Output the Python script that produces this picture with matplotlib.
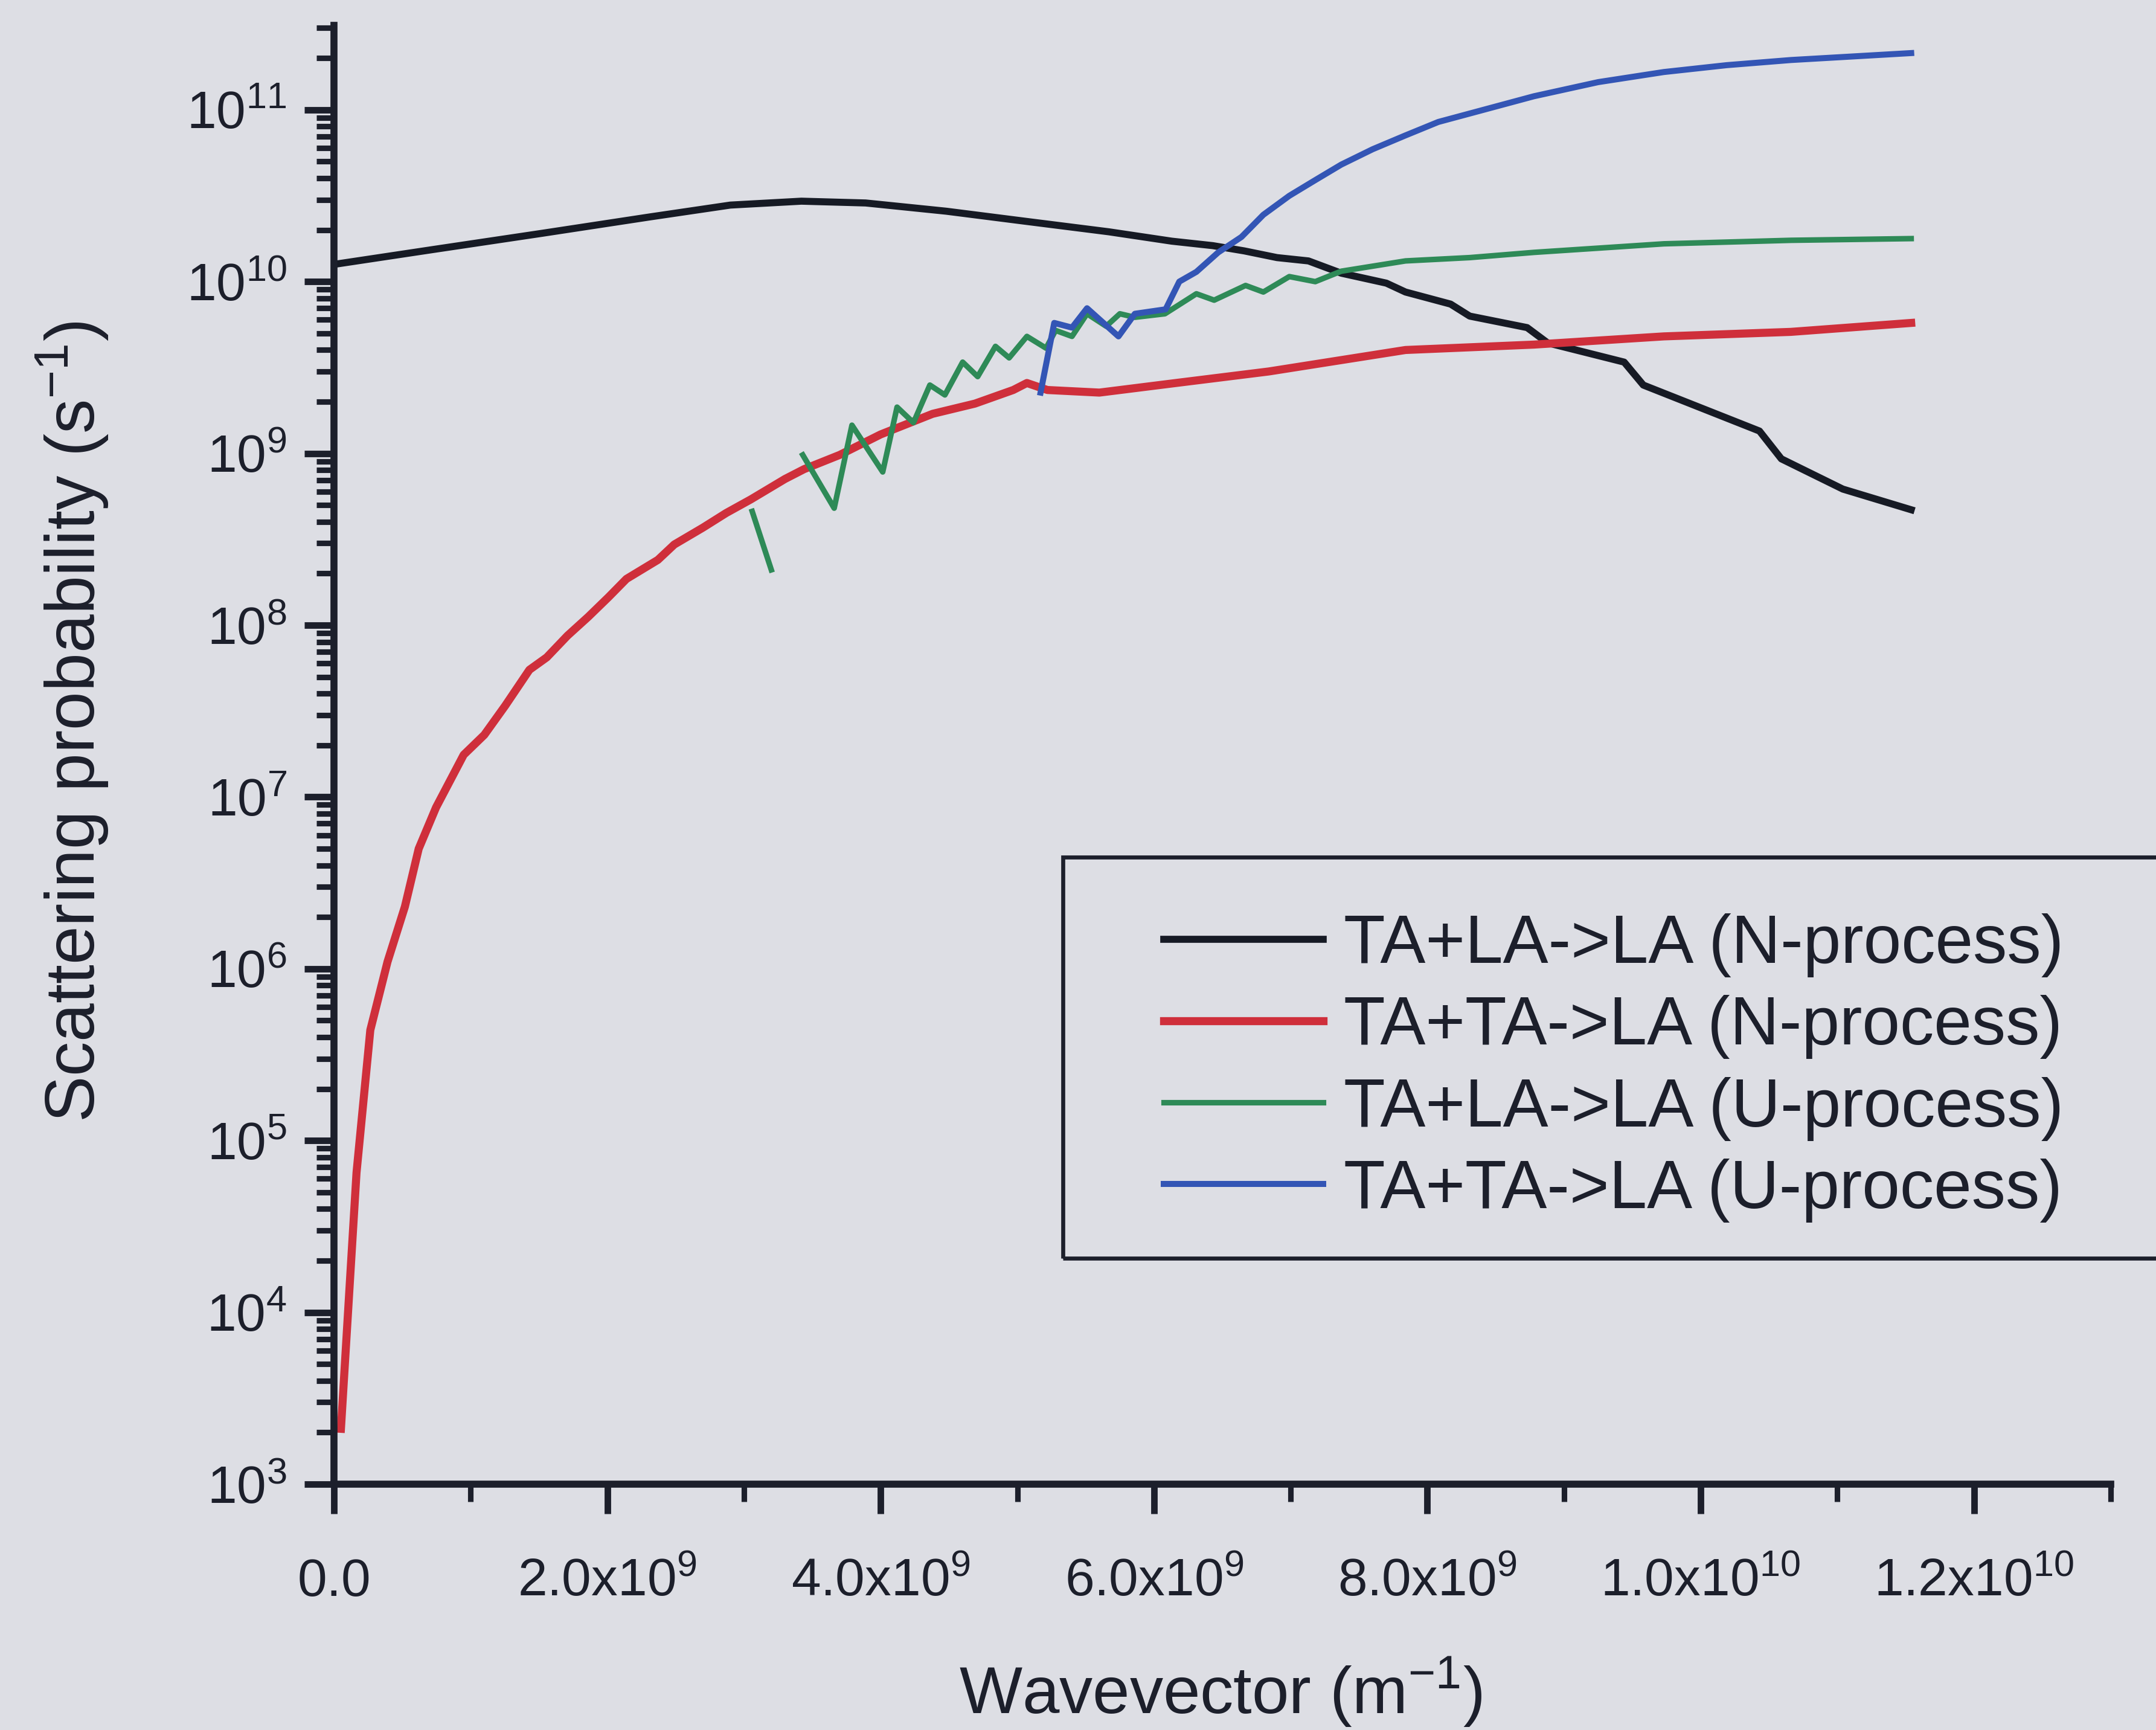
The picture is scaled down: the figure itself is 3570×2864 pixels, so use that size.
import matplotlib
matplotlib.use("Agg")
import numpy as np
import matplotlib.pyplot as plt
from matplotlib.ticker import LogLocator, MultipleLocator, NullFormatter
from matplotlib.patches import Rectangle

plt.rcParams.update({"font.family": "Liberation Sans", "mathtext.fontset": "custom",
                     "mathtext.rm": "Liberation Sans", "mathtext.it": "Liberation Sans:italic",
                     "mathtext.bf": "Liberation Sans:bold"})
BG = "#dddee4"; INK = "#1c1f2b"
K = "#161a24"; RED = "#cf2f3b"; GRN = "#2e8a57"; BLU = "#3355b5"

# TA+LA->LA, N-process
n_tala_x = [0, 0.73e9, 1.52e9, 2.31e9, 2.90e9, 3.42e9, 3.89e9, 4.48e9, 5.07e9, 5.67e9,
            6.13e9, 6.43e9, 6.66e9, 6.90e9, 7.13e9, 7.37e9, 7.70e9, 7.84e9, 8.17e9, 8.31e9,
            8.73e9, 8.88e9, 9.44e9, 9.58e9, 10.43e9, 10.59e9, 11.04e9, 11.54e9]
n_tala_y = [1.26e10, 1.54e10, 1.91e10, 2.38e10, 2.79e10, 2.94e10, 2.87e10, 2.57e10, 2.24e10, 1.95e10,
            1.72e10, 1.62e10, 1.51e10, 1.38e10, 1.32e10, 1.12e10, 9.8e9, 8.7e9, 7.4e9, 6.3e9,
            5.4e9, 4.4e9, 3.4e9, 2.5e9, 1.35e9, 9.3e8, 6.2e8, 4.7e8]

# TA+TA->LA, N-process
n_tata_x = [0.051e9, 0.165e9, 0.266e9, 0.392e9, 0.519e9, 0.620e9, 0.747e9, 0.949e9, 1.10e9, 1.253e9,
            1.43e9, 1.557e9, 1.709e9, 1.861e9, 2.01e9, 2.14e9, 2.37e9, 2.49e9, 2.70e9, 2.87e9,
            3.05e9, 3.30e9, 3.44e9, 3.70e9, 4.00e9, 4.38e9, 4.69e9, 4.97e9, 5.07e9, 5.22e9,
            5.60e9, 6.16e9, 6.84e9, 7.84e9, 8.78e9, 9.73e9, 10.66e9, 11.54e9]
n_tata_y = [2.1e3, 6.5e4, 4.4e5, 1.1e6, 2.3e6, 5.0e6, 8.7e6, 1.76e7, 2.3e7, 3.4e7,
            5.5e7, 6.5e7, 8.7e7, 1.12e8, 1.46e8, 1.86e8, 2.4e8, 2.95e8, 3.7e8, 4.5e8,
            5.4e8, 7.1e8, 8.1e8, 9.8e8, 1.29e9, 1.70e9, 1.95e9, 2.34e9, 2.57e9, 2.34e9,
            2.26e9, 2.57e9, 3.0e9, 4.0e9, 4.3e9, 4.8e9, 5.1e9, 5.75e9]

# TA+LA->LA, U-process (short isolated piece, then the main branch)
u_tala_x0 = [3.06e9, 3.20e9]
u_tala_y0 = [4.6e8, 2.1e8]
u_tala_x = [3.43e9, 3.66e9, 3.79e9, 4.015e9, 4.12e9, 4.24e9, 4.36e9, 4.47e9, 4.60e9, 4.71e9,
            4.84e9, 4.94e9, 5.07e9, 5.21e9, 5.28e9, 5.40e9, 5.51e9, 5.65e9, 5.75e9, 5.86e9,
            6.08e9, 6.31e9, 6.44e9, 6.67e9, 6.80e9, 6.99e9, 7.18e9, 7.37e9, 7.84e9, 8.31e9,
            8.78e9, 9.73e9, 10.66e9, 11.54e9]
u_tala_y = [9.8e8, 4.8e8, 1.46e9, 7.8e8, 1.86e9, 1.51e9, 2.5e9, 2.19e9, 3.4e9, 2.8e9,
            4.2e9, 3.6e9, 4.8e9, 4.1e9, 5.2e9, 4.8e9, 6.5e9, 5.5e9, 6.5e9, 6.2e9,
            6.5e9, 8.5e9, 7.8e9, 9.5e9, 8.7e9, 1.07e10, 1.0e10, 1.15e10, 1.32e10, 1.38e10,
            1.48e10, 1.66e10, 1.74e10, 1.78e10]

# TA+TA->LA, U-process
u_tata_x = [5.17e9, 5.27e9, 5.40e9, 5.51e9, 5.74e9, 5.86e9, 6.085e9, 6.185e9, 6.31e9, 6.47e9,
            6.64e9, 6.80e9, 6.99e9, 7.18e9, 7.37e9, 7.60e9, 7.84e9, 8.08e9, 8.78e9, 9.25e9,
            9.73e9, 10.19e9, 10.66e9, 11.54e9]
u_tata_y = [2.26e9, 5.75e9, 5.4e9, 7.0e9, 4.8e9, 6.5e9, 6.9e9, 1.0e10, 1.14e10, 1.48e10,
            1.82e10, 2.45e10, 3.16e10, 3.9e10, 4.8e10, 5.9e10, 7.1e10, 8.5e10, 1.2e11, 1.45e11,
            1.66e11, 1.82e11, 1.95e11, 2.14e11]

labels = ["TA+LA->LA (N-process)", "TA+TA->LA (N-process)",
          "TA+LA->LA (U-process)", "TA+TA->LA (U-process)"]

x_ticks = [0, 2e9, 4e9, 6e9, 8e9, 1.0e10, 1.2e10]
x_tick_labels = ["0.0", "2.0x10$^{9}$", "4.0x10$^{9}$", "6.0x10$^{9}$", "8.0x10$^{9}$",
                 "1.0x10$^{10}$", "1.2x10$^{10}$"]
y_ticks = [1e3, 1e4, 1e5, 1e6, 1e7, 1e8, 1e9, 1e10, 1e11]
y_tick_labels = ["10$^{3}$", "10$^{4}$", "10$^{5}$", "10$^{6}$", "10$^{7}$", "10$^{8}$",
                 "10$^{9}$", "10$^{10}$", "10$^{11}$"]

fig = plt.figure(figsize=(11.9, 2864 / 300), facecolor=BG)
ax = fig.add_axes([0.1549, 0.1421, 0.8241, 0.8432], facecolor=BG)

ax.plot(n_tala_x, n_tala_y, color=K, lw=2.8, label=labels[0])
ax.plot(n_tata_x, n_tata_y, color=RED, lw=3.2, label=labels[1])
ax.plot(u_tala_x0, u_tala_y0, color=GRN, lw=2.2)
ax.plot(u_tala_x, u_tala_y, color=GRN, lw=2.2, label=labels[2])
ax.plot(u_tata_x, u_tata_y, color=BLU, lw=2.4, label=labels[3])

ax.set_yscale("log")
ax.set_xlim(0, 1.3e10)
ax.set_ylim(1e3, 3.1e11)

for s in ("top", "right"):
    ax.spines[s].set_visible(False)
for s in ("left", "bottom"):
    ax.spines[s].set_linewidth(2.8)
    ax.spines[s].set_color(INK)

ax.tick_params(which="major", direction="out", length=11.8, width=2.6, color=INK,
               labelsize=21, labelcolor=INK)
ax.tick_params(which="minor", direction="out", length=7, width=2.2, color=INK)
ax.tick_params(axis="y", which="major", pad=7)
ax.tick_params(axis="x", which="major", pad=32.5)

ax.set_xticks(x_ticks)
ax.set_xticklabels(x_tick_labels, va="baseline")
ax.xaxis.set_minor_locator(MultipleLocator(1e9))
ax.set_yticks(y_ticks)
ax.set_yticklabels(y_tick_labels)
ax.yaxis.set_minor_locator(LogLocator(base=10, subs=np.arange(2, 10), numticks=40))
ax.yaxis.set_minor_formatter(NullFormatter())

fig.text(0.566, 0.0094, "Wavevector (m$^{-1}$)", fontsize=26.5, color=INK,
         ha="center", va="baseline")
fig.text(0.0336, 0.5828, "Scattering probability (s$^{-1}$)", fontsize=27.5, color=INK,
         ha="center", va="center", rotation=90)

leg = ax.legend(loc="center left", bbox_to_anchor=(0.5398, 0.3827), bbox_transform=fig.transFigure,
                frameon=False, fontsize=27, handlelength=2.35, handletextpad=0.3,
                labelspacing=0.26, borderpad=0, borderaxespad=0)
for t in leg.get_texts():
    t.set_color(INK)
fig.add_artist(Rectangle((0.493, 0.2727), 0.56, 0.2319, transform=fig.transFigure,
                         fill=False, edgecolor=INK, lw=1.6))

fig.savefig("out.png", dpi=300, facecolor=BG)
